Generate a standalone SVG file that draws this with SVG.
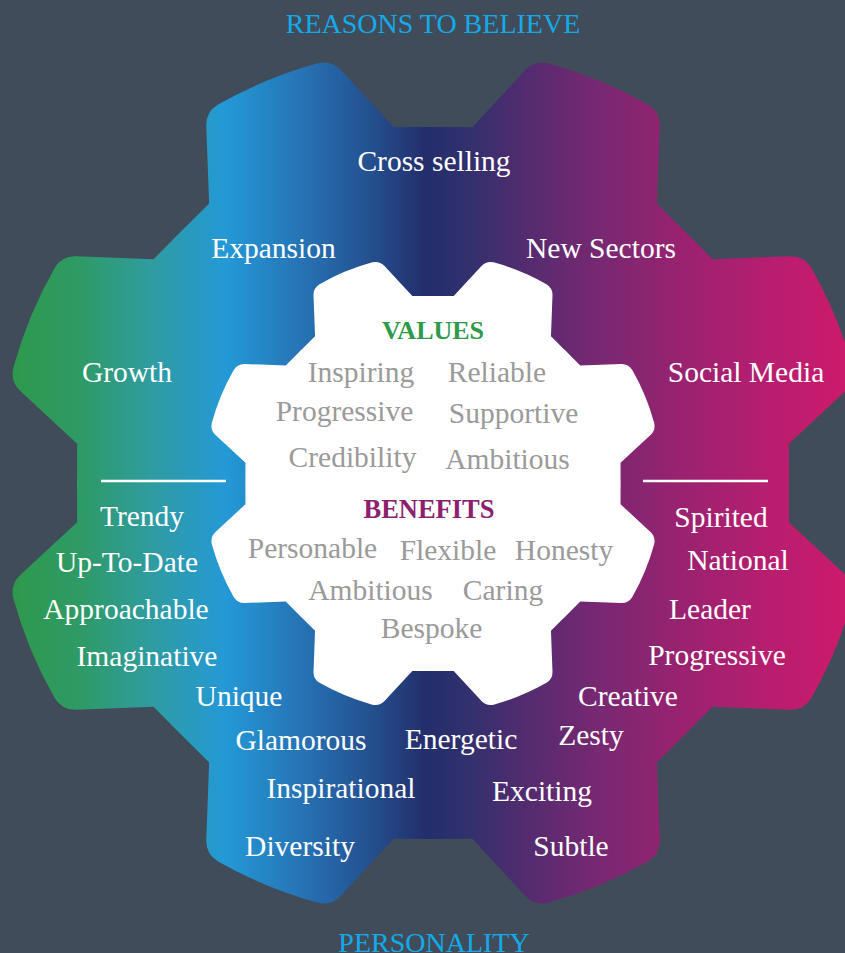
<svg xmlns="http://www.w3.org/2000/svg" xmlns:xlink="http://www.w3.org/1999/xlink" width="845" height="953" viewBox="0 0 845 953">
  <defs>
    <style>
      .t { font-family: "Liberation Serif", "Times New Roman", serif; font-size: 29.5px; text-anchor: middle; }
      .w { fill: #ffffff; }
      .g { fill: #9a9a9a; }
      .title { font-family: "Liberation Serif", "Times New Roman", serif; font-size: 28px; fill: #14aae8; text-anchor: middle; }
      .head { font-family: "Liberation Serif", "Times New Roman", serif; font-size: 26px; font-weight: bold; text-anchor: middle; }
      .divider { stroke: #ffffff; stroke-width: 2.5; fill: none; }
    </style>
    <path id="piece" d="M 0,0 L -143.5,-325.9 L -99.9,-343.8 L -72.9,-416.5 Q -68,-429.6 -54.2,-431.8 A 435 435 0 0 1 54.2,-431.8 Q 68,-429.6 72.9,-416.5 L 99.9,-343.8 L 143.5,-325.9 Z"/>
    <clipPath id="outerClip" clipPathUnits="userSpaceOnUse">
      <use xlink:href="#piece" transform="translate(433,483) rotate(22.5)"/>
      <use xlink:href="#piece" transform="translate(433,483) rotate(67.5)"/>
      <use xlink:href="#piece" transform="translate(433,483) rotate(112.5)"/>
      <use xlink:href="#piece" transform="translate(433,483) rotate(157.5)"/>
      <use xlink:href="#piece" transform="translate(433,483) rotate(202.5)"/>
      <use xlink:href="#piece" transform="translate(433,483) rotate(247.5)"/>
      <use xlink:href="#piece" transform="translate(433,483) rotate(292.5)"/>
      <use xlink:href="#piece" transform="translate(433,483) rotate(337.5)"/>
    </clipPath>
    <clipPath id="innerClip" clipPathUnits="userSpaceOnUse">
      <use xlink:href="#piece" transform="translate(433,483.5) scale(0.527) rotate(22.5)"/>
      <use xlink:href="#piece" transform="translate(433,483.5) scale(0.527) rotate(67.5)"/>
      <use xlink:href="#piece" transform="translate(433,483.5) scale(0.527) rotate(112.5)"/>
      <use xlink:href="#piece" transform="translate(433,483.5) scale(0.527) rotate(157.5)"/>
      <use xlink:href="#piece" transform="translate(433,483.5) scale(0.527) rotate(202.5)"/>
      <use xlink:href="#piece" transform="translate(433,483.5) scale(0.527) rotate(247.5)"/>
      <use xlink:href="#piece" transform="translate(433,483.5) scale(0.527) rotate(292.5)"/>
      <use xlink:href="#piece" transform="translate(433,483.5) scale(0.527) rotate(337.5)"/>
    </clipPath>
    <linearGradient id="gearGrad" gradientUnits="userSpaceOnUse" x1="0" y1="0" x2="845" y2="0">
      <stop offset="0.018" stop-color="#2e994d"/>
      <stop offset="0.095" stop-color="#2e9a66"/>
      <stop offset="0.178" stop-color="#2f9ca0"/>
      <stop offset="0.266" stop-color="#2499d6"/>
      <stop offset="0.355" stop-color="#2674b6"/>
      <stop offset="0.438" stop-color="#24508f"/>
      <stop offset="0.503" stop-color="#232e6c"/>
      <stop offset="0.556" stop-color="#33306e"/>
      <stop offset="0.627" stop-color="#552b6f"/>
      <stop offset="0.710" stop-color="#782872"/>
      <stop offset="0.805" stop-color="#992270"/>
      <stop offset="0.900" stop-color="#b51e6f"/>
      <stop offset="1" stop-color="#cc1a6d"/>
    </linearGradient>
  </defs>

  <rect id="background" x="0" y="0" width="845" height="953" fill="#404c5a"/>

  <g id="outer-gear">
    <rect x="0" y="0" width="845" height="953" fill="url(#gearGrad)" clip-path="url(#outerClip)"/>
  </g>

  <g id="inner-gear">
    <rect x="180" y="230" width="500" height="510" fill="#ffffff" clip-path="url(#innerClip)"/>
  </g>

  <g id="connectors">
    <line class="divider" x1="101" y1="481" x2="226" y2="481"/>
    <line class="divider" x1="643" y1="481" x2="768" y2="481"/>
  </g>

  <g id="titles">
    <text class="title" x="433" y="33">REASONS TO BELIEVE</text>
    <text class="title" x="434" y="952">PERSONALITY</text>
  </g>

  <g id="reasons-to-believe">
    <text class="t w" x="434" y="171">Cross selling</text>
    <text class="t w" x="273.5" y="258">Expansion</text>
    <text class="t w" x="601" y="258">New Sectors</text>
    <text class="t w" x="127" y="382">Growth</text>
    <text class="t w" x="746" y="382">Social Media</text>
  </g>

  <g id="personality">
    <text class="t w" x="142" y="526">Trendy</text>
    <text class="t w" x="127" y="572">Up-To-Date</text>
    <text class="t w" x="126" y="619">Approachable</text>
    <text class="t w" x="147" y="666">Imaginative</text>
    <text class="t w" x="239" y="706">Unique</text>
    <text class="t w" x="301" y="750">Glamorous</text>
    <text class="t w" x="461" y="749">Energetic</text>
    <text class="t w" x="591" y="745">Zesty</text>
    <text class="t w" x="341" y="798">Inspirational</text>
    <text class="t w" x="542" y="801">Exciting</text>
    <text class="t w" x="300" y="856">Diversity</text>
    <text class="t w" x="571" y="856">Subtle</text>
    <text class="t w" x="721" y="527">Spirited</text>
    <text class="t w" x="738" y="570">National</text>
    <text class="t w" x="710" y="619">Leader</text>
    <text class="t w" x="717" y="665">Progressive</text>
    <text class="t w" x="628" y="706">Creative</text>
  </g>

  <g id="values">
    <text class="head" x="433" y="339" fill="#2e9a4a">VALUES</text>
    <text class="t g" x="361" y="382">Inspiring</text>
    <text class="t g" x="497" y="382">Reliable</text>
    <text class="t g" x="344.5" y="421">Progressive</text>
    <text class="t g" x="513.5" y="423">Supportive</text>
    <text class="t g" x="352.5" y="467">Credibility</text>
    <text class="t g" x="507.5" y="469">Ambitious</text>
  </g>

  <g id="benefits">
    <text class="head" x="429" y="518" fill="#8c1f6f" style="font-size:26.5px">BENEFITS</text>
    <text class="t g" x="312.5" y="558">Personable</text>
    <text class="t g" x="448" y="560">Flexible</text>
    <text class="t g" x="564" y="560">Honesty</text>
    <text class="t g" x="370.5" y="600">Ambitious</text>
    <text class="t g" x="503" y="600">Caring</text>
    <text class="t g" x="431.5" y="638">Bespoke</text>
  </g>
</svg>
